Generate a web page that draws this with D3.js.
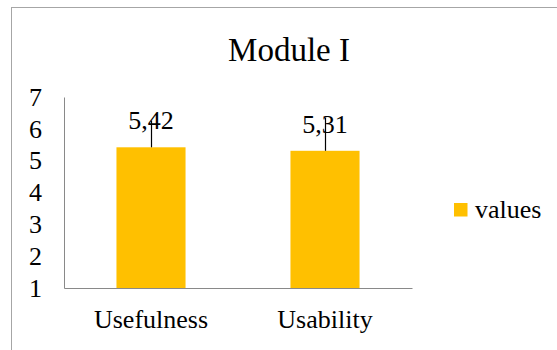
<!DOCTYPE html>
<html>
<head>
<meta charset="utf-8">
<script src="https://cdn.jsdelivr.net/npm/d3@7"></script>
<style>
  html, body { margin: 0; padding: 0; background: #fff; }
  svg text { font-family: 'Liberation Serif', 'Times New Roman', 'DejaVu Serif', serif !important; }
</style>
</head>
<body>
<svg id="chart" width="557" height="350"></svg>
<script>
const title = "Module I";
const categories = ["Usefulness", "Usability"];
const values = [5.42, 5.31];
const errors = [0.84, 1.04];
const valueLabels = ["5,42", "5,31"];
const yTicks = [1, 2, 3, 4, 5, 6, 7];
const seriesName = "values";

const FONT = "'Liberation Serif', 'Times New Roman', 'DejaVu Serif', serif";
const svg = d3.select("#chart");
const W = 557, H = 350;
const plot = { left: 64, right: 412, top: 97, bottom: 288 };
const barColor = "#FFC000";
const axisColor = "#898989";

// outer chart border (extends beyond the window on right/bottom)
svg.append("rect")
  .attr("x", 11.5).attr("y", 7.5)
  .attr("width", W + 20).attr("height", H + 20)
  .attr("fill", "#fff").attr("stroke", "#a6a6a6").attr("stroke-width", 1);

const x = d3.scaleBand()
  .domain(categories)
  .range([plot.left, plot.right])
  .paddingInner(0.603)
  .paddingOuter(0.3015);

const y = d3.scaleLinear()
  .domain([1, 7])
  .range([plot.bottom, plot.top]);

// title
svg.append("text")
  .attr("x", 289).attr("y", 61)
  .attr("text-anchor", "middle")
  .attr("font-family", FONT)
  .attr("font-size", 33)
  .attr("fill", "#000")
  .text(title);

// bars
svg.append("g").selectAll("rect")
  .data(categories)
  .join("rect")
  .attr("x", d => x(d))
  .attr("width", x.bandwidth())
  .attr("y", (d, i) => y(values[i]))
  .attr("height", (d, i) => y(1) - y(values[i]))
  .attr("fill", barColor);

// y axis
const yAxis = svg.append("g")
  .attr("transform", `translate(${plot.left},0)`)
  .call(d3.axisLeft(y).tickValues(yTicks).tickSize(0).tickSizeOuter(0).tickPadding(22).tickFormat(d3.format("d")));
yAxis.attr("font-family", FONT);
yAxis.select(".domain").attr("stroke", axisColor).attr("stroke-width", 1);
yAxis.selectAll("text")
  .attr("font-size", 26)
  .attr("font-family", FONT)
  .attr("fill", "#000");

// x axis
const xAxis = svg.append("g")
  .attr("transform", `translate(0,${plot.bottom})`)
  .call(d3.axisBottom(x).tickSize(0).tickSizeOuter(0));
xAxis.attr("font-family", FONT);
xAxis.select(".domain").attr("stroke", axisColor).attr("stroke-width", 1);
xAxis.selectAll("text")
  .attr("y", 40).attr("dy", null)
  .attr("font-size", 26)
  .attr("font-family", FONT)
  .attr("fill", "#000");

// data labels
svg.append("g").selectAll("text")
  .data(categories)
  .join("text")
  .attr("x", d => x(d) + x.bandwidth() / 2)
  .attr("y", (d, i) => y(values[i]) - 18)
  .attr("text-anchor", "middle")
  .attr("font-family", FONT)
  .attr("font-size", 26)
  .attr("fill", "#000")
  .text((d, i) => valueLabels[i]);

// error bars (plus direction)
svg.append("g").selectAll("line")
  .data(categories)
  .join("line")
  .attr("x1", d => Math.round(x(d) + x.bandwidth() / 2) + 0.5)
  .attr("x2", d => Math.round(x(d) + x.bandwidth() / 2) + 0.5)
  .attr("y1", (d, i) => y(values[i]))
  .attr("y2", (d, i) => y(values[i] + errors[i]))
  .attr("stroke", "#000")
  .attr("stroke-width", 1.2);

// legend
const legend = svg.append("g").attr("transform", "translate(454,203)");
legend.append("rect")
  .attr("width", 13.5).attr("height", 13.5)
  .attr("fill", barColor);
legend.append("text")
  .attr("x", 21).attr("y", 15)
  .attr("font-family", FONT)
  .attr("font-size", 26)
  .attr("fill", "#000")
  .text(seriesName);
</script>
</body>
</html>
